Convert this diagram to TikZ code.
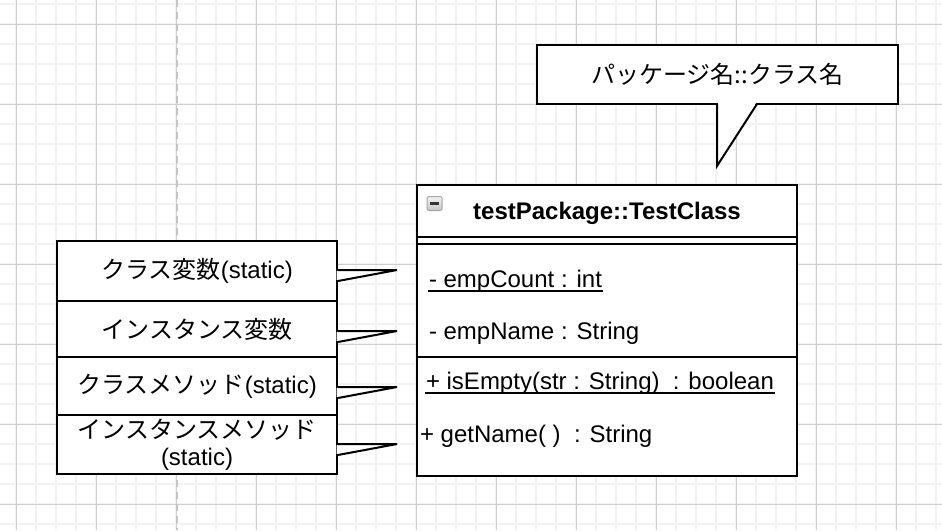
\documentclass[tikz,border=0pt]{standalone}
\usepackage{fontspec}
\setmainfont{Liberation Sans}
\newfontfamily\cjk{Noto Sans CJK JP}
\usetikzlibrary{calc}
\definecolor{minorgrid}{HTML}{F2F2F2}
\definecolor{majorgrid}{HTML}{CFCFCF}
\definecolor{pagebreak}{HTML}{C4C4C4}
\begin{document}
\begin{tikzpicture}[x=0.5pt, y=-0.5pt, line width=1pt,
    note/.style={draw, fill=white, minimum width=140pt, inner sep=0pt, align=center,
        font=\fontsize{12}{13.5}\selectfont},
    member/.style={anchor=base west, inner sep=0pt, font=\fontsize{12}{14}\selectfont},
    static/.style={line width=0.7pt},
    tailedge/.style={draw, line join=miter}]
    % Background
    \fill[white] (0,0) rectangle (942,530);
    \useasboundingbox (0,0) rectangle (942,530);

    % Grid
    \foreach \x in {16,36,...,940} \draw[minorgrid] (\x,0) -- (\x,530);
    \foreach \y in {4,24,...,530} \draw[minorgrid] (0,\y) -- (942,\y);
    \foreach \x in {16,96,...,940} \draw[majorgrid, line width=0.5pt] (\x,0) -- (\x,530);
    \foreach \y in {24,104,...,530} \draw[majorgrid, line width=0.5pt] (0,\y) -- (942,\y);
    \draw[pagebreak, dash pattern=on 3.5pt off 2.5pt] (177,0) -- (177,530);

    % Class box
    \draw[fill=white] (417,185) rectangle (797,476);
    \node[font=\fontsize{12}{14}\selectfont\bfseries, anchor=base] (title) at (607,219) {testPackage::TestClass};
    \draw (417,237) -- (797,237);
    \draw (417,244) -- (797,244);
    \draw (417,357) -- (797,357);

    % Collapse icon
    \node[draw=gray!70, line width=0.5pt, rounded corners=1pt, top color=gray!10, bottom color=gray!45,
        minimum width=7.5pt, minimum height=7pt, inner sep=0pt] (icon) at (434.5,203.5) {};
    \draw[line width=1.2pt, black!80] ($(icon.center)+(-4.5,0)$) -- ($(icon.center)+(4.5,0)$);

    % Members
    \node[member] (empcount) at (428,287) {- empCount : int\ };
    \node[member] (empname) at (428,339) {- empName : String};
    \node[member] (isempty) at (425,389) {+ isEmpty(str : String)\ \ : boolean};
    \node[member] (getname) at (419,442) {+ getName( )\ \ : String};
    \draw[static] ($(empcount.base west)+(0,4)$) -- ($(empcount.base east)+(0,4)$);
    \draw[static] ($(isempty.base west)+(0,4)$) -- ($(isempty.base east)+(0,4)$);

    % Notes
    \node[note, minimum height=30pt] (classvar) at (197,271) {{\cjk クラス変数}(static)};
    \node[note, minimum height=28pt] (instvar) at (197,329) {{\cjk インスタンス変数}};
    \node[note, minimum height=29pt] (classmeth) at (197,386) {{\cjk クラスメソッド}(static)};
    \node[note, minimum height=29.5pt] (instmeth) at (197,444.5) {{\cjk インスタンスメソッド}\\(static)};

    \coordinate (tipA) at (397,270);
    \coordinate (tipB) at (397,331);
    \coordinate (tipC) at (397,387);
    \coordinate (tipD) at (397,444);

    \foreach \n/\t in {classvar/tipA, instvar/tipB, classmeth/tipC, instmeth/tipD} {
        \fill[white] ($(\n.east |- \t)+(-1.5,1)$) -- (\t) -- ($(\n.east |- \t)+(-1.5,10)$) -- cycle;
        \draw[tailedge] (\n.east |- \t) -- (\t) -- ($(\n.east |- \t)+(0,11)$);
    }

    % Package note
    \node[draw, fill=white, minimum width=180.5pt, minimum height=29.5pt, inner sep=0pt,
        font=\fontsize{12}{14}\selectfont] (pkgnote) at (717.5,74.5) {\cjk パッケージ名::クラス名};
    \coordinate (tipE) at (717,166);
    \fill[white] (718,103) -- (tipE) -- (756,103) -- cycle;
    \draw[tailedge] (717,104) -- (tipE) -- (757,104);
\end{tikzpicture}
\end{document}
